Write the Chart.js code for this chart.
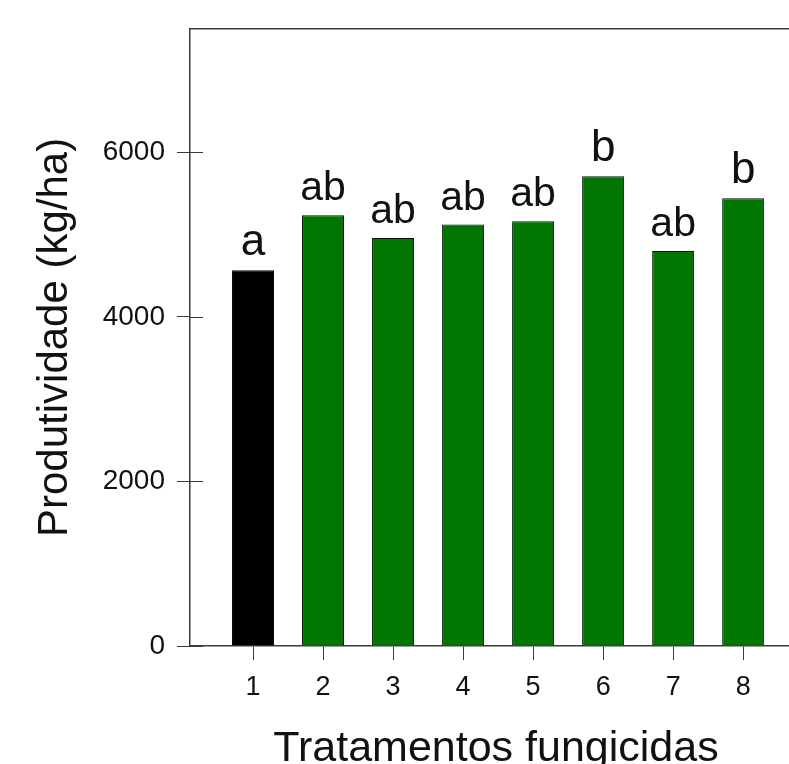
<!DOCTYPE html>
<html>
<head>
<meta charset="utf-8">
<script src="https://cdn.jsdelivr.net/npm/chart.js@4/dist/chart.umd.min.js"></script>
<style>
  html, body { margin: 0; padding: 0; background: #ffffff; overflow: hidden; }
  #wrap { width: 789px; height: 764px; overflow: hidden; }
  canvas { display: block; }
</style>
</head>
<body>
<div id="wrap"><canvas id="c" width="810" height="771"></canvas></div>
<script>
// Tratamentos e produtividade média (kg/ha)
const tratamentos = [1, 2, 3, 4, 5, 6, 7, 8];
const produtividade = [4565, 5234, 4958, 5121, 5161, 5708, 4800, 5441];
const letras = ['a', 'ab', 'ab', 'ab', 'ab', 'b', 'ab', 'b'];
const yTicks = [0, 2000, 4000, 6000];
const yMax = 7500;
const xMin = 0.1;
const xMax = 8.84;

const FONT = "'Liberation Sans', Arial, sans-serif";
const AXIS_COLOR = '#3c3c3c';
const GREEN = '#007600';

// Marcas internas dos ticks do eixo Y e linha superior do quadro
const framePlugin = {
  id: 'frame',
  afterDraw(chart) {
    const { ctx, chartArea, scales } = chart;
    ctx.save();
    ctx.strokeStyle = AXIS_COLOR;
    ctx.lineWidth = 1.5;
    ctx.beginPath();
    ctx.moveTo(chartArea.left, chartArea.top);
    ctx.lineTo(chart.width, chartArea.top);
    ctx.stroke();
    ctx.lineWidth = 1;
    yTicks.forEach(v => {
      const y = Math.round(scales.y.getPixelForValue(v)) + 0.5;
      ctx.beginPath();
      ctx.moveTo(chartArea.left, y);
      ctx.lineTo(chartArea.left + 13, y);
      ctx.stroke();
    });
    ctx.restore();
  }
};

// Letras de significância acima das barras
const letrasPlugin = {
  id: 'letras',
  afterDatasetsDraw(chart) {
    const { ctx } = chart;
    const meta = chart.getDatasetMeta(0);
    ctx.save();
    ctx.fillStyle = '#111111';
    ctx.textAlign = 'center';
    ctx.textBaseline = 'alphabetic';
    meta.data.forEach((bar, i) => {
      const txt = letras[i];
      ctx.font = (txt.length === 1 ? 44 : 41) + 'px ' + FONT;
      ctx.fillText(txt, bar.x, bar.y - 15);
    });
    ctx.restore();
  }
};

new Chart(document.getElementById('c'), {
  type: 'bar',
  data: {
    datasets: [{
      data: tratamentos.map((t, i) => ({ x: t, y: produtividade[i] })),
      backgroundColor: ctx => ctx.dataIndex === 0 ? '#000000' : GREEN,
      borderColor: '#0a0a0a',
      borderWidth: 1,
      barPercentage: 0.6,
      categoryPercentage: 1.0
    }]
  },
  options: {
    responsive: false,
    animation: false,
    events: [],
    layout: { padding: { left: 0, right: 8, top: 28, bottom: 0 } },
    plugins: { legend: { display: false }, tooltip: { enabled: false } },
    scales: {
      x: {
        type: 'linear',
        min: xMin,
        max: xMax,
        offset: false,
        afterBuildTicks: s => { s.ticks = tratamentos.map(v => ({ value: v })); },
        afterFit: s => { s.height = 125; },
        grid: { offset: false, drawOnChartArea: false, drawTicks: true, tickLength: 14, color: AXIS_COLOR, lineWidth: 1 },
        border: { display: true, color: AXIS_COLOR, width: 1.5 },
        ticks: {
          autoSkip: false,
          maxRotation: 0,
          padding: 11,
          color: '#111111',
          font: { family: FONT, size: 27 },
          callback: v => String(v)
        },
        title: {
          display: true,
          text: 'Tratamentos fungicidas',
          color: '#111111',
          font: { family: FONT, size: 43, lineHeight: 1 },
          padding: { top: 0, bottom: 0 }
        }
      },
      y: {
        min: 0,
        max: yMax,
        afterBuildTicks: s => { s.ticks = yTicks.map(v => ({ value: v })); },
        afterFit: s => { s.width = 190; },
        grid: { drawOnChartArea: false, drawTicks: true, tickLength: 13, color: AXIS_COLOR, lineWidth: 1 },
        border: { display: true, color: AXIS_COLOR, width: 1.5 },
        ticks: {
          padding: 12,
          color: '#111111',
          font: { family: FONT, size: 28 },
          callback: v => String(v)
        },
        title: {
          display: true,
          text: 'Produtividade (kg/ha)',
          color: '#111111',
          font: { family: FONT, size: 42, lineHeight: 1 },
          padding: { top: 34, bottom: 0 }
        }
      }
    }
  },
  plugins: [framePlugin, letrasPlugin]
});
</script>
</body>
</html>
